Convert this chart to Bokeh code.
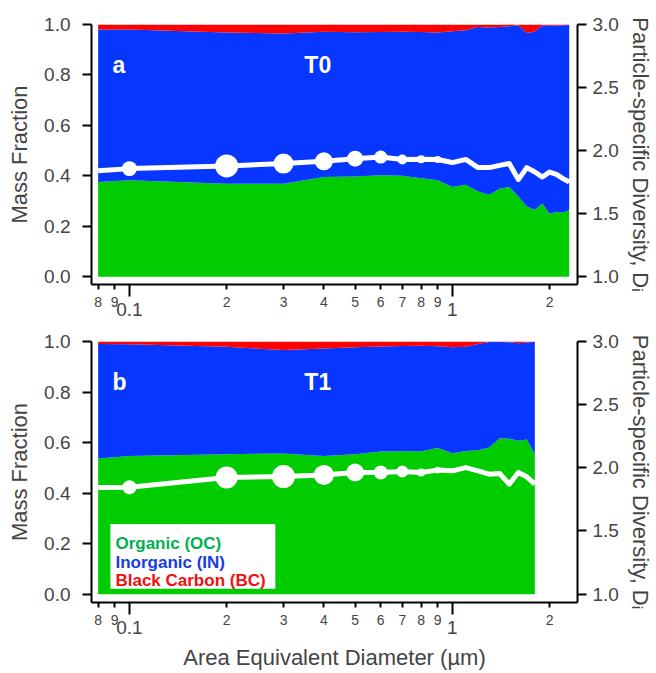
import numpy as np
from bokeh.plotting import figure
from bokeh.models import (Range1d, LinearAxis, LogAxis, FixedTicker, Label,
                          BoxAnnotation, NumeralTickFormatter, ColumnDataSource)
from bokeh.layouts import column
from bokeh.embed import file_html
from bokeh.resources import INLINE

# ---------------- data ----------------
# panel a (T0)
x_a = [0.08, 0.1, 0.2, 0.3, 0.4, 0.5, 0.6, 0.7, 0.8, 0.9, 1.0, 1.1, 1.2, 1.3,
       1.4, 1.5, 1.6, 1.7, 1.8, 1.9, 2.0, 2.1, 2.2, 2.3]
oc_a = [0.375, 0.382, 0.369, 0.369, 0.395, 0.397, 0.402, 0.400, 0.390, 0.382,
        0.356, 0.365, 0.338, 0.325, 0.349, 0.356, 0.318, 0.278, 0.265, 0.290,
        0.250, 0.256, 0.255, 0.263]
in_a = [0.605, 0.598, 0.599, 0.595, 0.576, 0.572, 0.568, 0.571, 0.580, 0.586,
        0.617, 0.612, 0.652, 0.663, 0.641, 0.637, 0.679, 0.688, 0.707, 0.706,
        0.747, 0.739, 0.742, 0.735]
bc_a = [0.020, 0.020, 0.032, 0.036, 0.029, 0.031, 0.030, 0.029, 0.030, 0.032,
        0.027, 0.023, 0.010, 0.012, 0.010, 0.007, 0.003, 0.034, 0.028, 0.004,
        0.003, 0.005, 0.003, 0.002]
div_a = [1.840, 1.857, 1.878, 1.897, 1.915, 1.936, 1.949, 1.929, 1.931, 1.929,
         1.905, 1.930, 1.865, 1.865, 1.883, 1.897, 1.770, 1.865, 1.830, 1.790,
         1.830, 1.812, 1.778, 1.751]
# relative particle number (marker weight), 0 = no marker
count_a = [0, 0.65, 1.0, 0.87, 0.78, 0.70, 0.57, 0.43, 0.35, 0.30, 0, 0, 0, 0,
           0, 0, 0, 0, 0, 0, 0, 0, 0, 0]

# panel b (T1)
x_b = [0.08, 0.1, 0.2, 0.3, 0.4, 0.5, 0.6, 0.7, 0.8, 0.9, 1.0, 1.1, 1.2, 1.3,
       1.4, 1.5, 1.6, 1.7, 1.8]
oc_b = [0.537, 0.547, 0.554, 0.557, 0.547, 0.554, 0.565, 0.566, 0.566, 0.578,
        0.558, 0.567, 0.570, 0.580, 0.617, 0.615, 0.607, 0.612, 0.554]
in_b = [0.453, 0.442, 0.425, 0.409, 0.425, 0.423, 0.415, 0.416, 0.417, 0.403,
        0.419, 0.412, 0.420, 0.418, 0.381, 0.382, 0.386, 0.384, 0.445]
bc_b = [0.010, 0.011, 0.021, 0.034, 0.028, 0.023, 0.020, 0.018, 0.017, 0.019,
        0.023, 0.021, 0.010, 0.002, 0.002, 0.003, 0.007, 0.004, 0.001]
div_b = [1.844, 1.846, 1.923, 1.931, 1.944, 1.963, 1.963, 1.971, 1.963, 1.982,
         1.976, 2.002, 1.976, 1.950, 1.955, 1.871, 1.963, 1.929, 1.871]
count_b = [0, 0.61, 0.96, 1.0, 0.87, 0.78, 0.61, 0.52, 0.35, 0.30, 0, 0, 0, 0,
           0, 0, 0, 0, 0]

# axis ticks / labels
y_ticks = [0.0, 0.2, 0.4, 0.6, 0.8, 1.0]
div_ticks = [1.0, 1.5, 2.0, 2.5, 3.0]
x_minor_ticks = [0.08, 0.09, 0.2, 0.3, 0.4, 0.5, 0.6, 0.7, 0.8, 0.9, 2.0]
x_minor_labels = ["8", "9", "2", "3", "4", "5", "6", "7", "8", "9", "2"]
x_decade_ticks = [0.1, 1.0]
x_decade_labels = ["0.1", "1"]

legend_names = ["Organic (OC)", "Inorganic (IN)", "Black Carbon (BC)"]

# ---------------- style ----------------
FONT = "Liberation Sans"
GREEN = "#00CC00"
BLUE = "#0636FF"
RED = "#FF0000"
LEG_COLORS = ["#00B050", "#1A3BE8", "#F01010"]
X_START, X_END = 0.0763, 2.44
MAX_MARKER = 23
W = 656


def style_axis(ax, tick_out=9):
    ax.axis_line_width = 2
    ax.major_tick_line_width = 2
    ax.major_tick_in = 0
    ax.major_tick_out = tick_out
    ax.minor_tick_line_color = None
    ax.major_label_text_font = FONT
    ax.major_label_text_font_size = "19px"
    ax.axis_label_text_font = FONT
    ax.axis_label_text_font_size = "22px"
    ax.axis_label_text_font_style = "normal"


def panel(x, oc, inorg, bc, div, count, tag, run, height, mbt, mbb, ymin,
          xlabel=None, legend=False):
    p = figure(width=W, height=height, x_axis_type="log",
               x_range=Range1d(X_START, X_END), y_range=Range1d(ymin, 1.0),
               output_backend="svg", toolbar_location=None,
               x_axis_location=None, y_axis_location=None,
               min_border_left=91, min_border_right=79,
               min_border_top=mbt, min_border_bottom=mbb)
    p.extra_y_ranges = {"div": Range1d(1 + 2 * ymin, 3.0)}
    p.outline_line_color = None
    p.xgrid.visible = False
    p.ygrid.visible = False
    p.background_fill_color = "white"

    oc = np.array(oc); inorg = np.array(inorg); bc = np.array(bc)
    s1 = oc
    s2 = oc + inorg
    s3 = oc + inorg + bc
    src = ColumnDataSource(dict(x=x, z=np.zeros(len(x)), s1=s1, s2=s2, s3=s3,
                                div=div, size=np.array(count) * MAX_MARKER))
    p.varea(x="x", y1="z", y2="s1", source=src, fill_color=GREEN)
    p.varea(x="x", y1="s1", y2="s2", source=src, fill_color=BLUE)
    p.varea(x="x", y1="s2", y2="s3", source=src, fill_color=RED)
    p.line(x="x", y="div", source=src, y_range_name="div", line_color="white",
           line_width=5, line_join="round")
    p.scatter(x="x", y="div", size="size", source=src, y_range_name="div",
              fill_color="white", line_color=None)

    # left axis
    ly = LinearAxis(ticker=FixedTicker(ticks=y_ticks),
                    formatter=NumeralTickFormatter(format="0.0"),
                    axis_label="Mass Fraction")
    style_axis(ly)
    ly.major_label_standoff = 12
    ly.axis_label_standoff = 9
    p.add_layout(ly, "left")

    # right axis
    ry = LinearAxis(y_range_name="div", ticker=FixedTicker(ticks=div_ticks),
                    formatter=NumeralTickFormatter(format="0.0"),
                    axis_label="Particle-specific Diversity, D\u1d62")
    style_axis(ry)
    ry.major_label_standoff = 6
    ry.axis_label_standoff = 6
    p.add_layout(ry, "right")

    # bottom axis: minor labelled ticks + long decade ticks
    ax_a = LogAxis(ticker=FixedTicker(ticks=x_minor_ticks,
                                      minor_ticks=x_decade_ticks),
                   major_label_overrides=dict(zip(x_minor_ticks, x_minor_labels)))
    style_axis(ax_a, tick_out=5)
    ax_a.minor_tick_line_color = "black"
    ax_a.minor_tick_line_width = 2
    ax_a.minor_tick_in = 0
    ax_a.minor_tick_out = 12
    ax_a.major_label_text_font_size = "14px"
    ax_a.major_label_standoff = 0
    p.add_layout(ax_a, "below")

    ax_b = LogAxis(ticker=FixedTicker(ticks=x_decade_ticks, minor_ticks=[]),
                   major_label_overrides=dict(zip(x_decade_ticks, x_decade_labels)))
    style_axis(ax_b, tick_out=0)
    ax_b.axis_line_color = None
    ax_b.major_tick_line_color = None
    ax_b.major_label_standoff = -7
    if xlabel:
        ax_b.axis_label = xlabel
        ax_b.axis_label_standoff = 8
    p.add_layout(ax_b, "below")

    # panel annotations
    p.add_layout(Label(x=0.0886, y=0.838, text=tag, text_color="white",
                       text_font=FONT, text_font_style="bold",
                       text_font_size="23px", text_baseline="alphabetic"))
    p.add_layout(Label(x=0.348, y=0.840, text=run, text_color="white",
                       text_font=FONT, text_font_style="bold",
                       text_font_size="23px", text_baseline="alphabetic"))

    if legend:
        p.add_layout(BoxAnnotation(left=0.0873, right=0.283, bottom=0.021,
                                   top=0.278, fill_color="white", fill_alpha=1,
                                   line_color=None, level="annotation"))
        for name, col, yy in zip(legend_names, LEG_COLORS, [0.199, 0.126, 0.053]):
            p.add_layout(Label(x=0.0905, y=yy, text=name, text_color=col,
                               text_font=FONT, text_font_style="bold",
                               text_font_size="17px",
                               text_baseline="alphabetic"))
    return p


pa = panel(x_a, oc_a, in_a, bc_a, div_a, count_a, "a", "T0",
           height=326, mbt=24, mbb=42, ymin=-0.031)
pb = panel(x_b, oc_b, in_b, bc_b, div_b, count_b, "b", "T1",
           height=346, mbt=15, mbb=70, ymin=-0.033,
           xlabel="Area Equivalent Diameter (\u00b5m)", legend=True)

layout = column(pa, pb, spacing=0)
open("out.html", "w").write(file_html(layout, INLINE))
